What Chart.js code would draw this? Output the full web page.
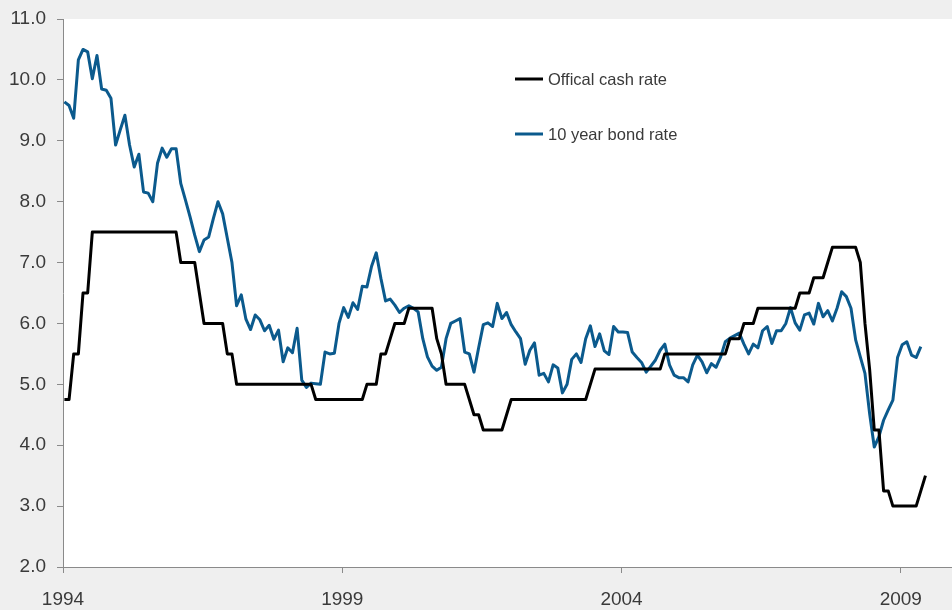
<!DOCTYPE html>
<html>
<head>
<meta charset="utf-8">
<script src="https://cdn.jsdelivr.net/npm/chart.js@4.4.1/dist/chart.umd.min.js"></script>
<style>
  html, body { margin: 0; padding: 0; background: #efefef; }
  #wrap { width: 952px; height: 610px; position: relative; }
</style>
</head>
<body>
<div id="wrap"><canvas id="rates" width="952" height="610"></canvas></div>
<script>
// Monthly series, one value per month from mid-1994 to late 2009 (per cent)
const seriesNames = ['Offical cash rate', '10 year bond rate'];

const cashRate = [
  4.75, 4.75, 5.5, 5.5, 6.5, 6.5,
  7.5, 7.5, 7.5, 7.5, 7.5, 7.5, 7.5, 7.5, 7.5, 7.5, 7.5, 7.5, 7.5, 7.5, 7.5, 7.5, 7.5, 7.5, 7.5,
  7.0, 7.0, 7.0, 7.0, 6.5,
  6.0, 6.0, 6.0, 6.0, 6.0,
  5.5, 5.5,
  5.0, 5.0, 5.0, 5.0, 5.0, 5.0, 5.0, 5.0, 5.0, 5.0, 5.0, 5.0, 5.0, 5.0, 5.0, 5.0, 5.0,
  4.75, 4.75, 4.75, 4.75, 4.75, 4.75, 4.75, 4.75, 4.75, 4.75, 4.75,
  5.0, 5.0, 5.0, 5.5, 5.5, 5.75,
  6.0, 6.0, 6.0,
  6.25, 6.25, 6.25, 6.25, 6.25, 6.25,
  5.75, 5.5,
  5.0, 5.0, 5.0, 5.0, 5.0,
  4.75, 4.5, 4.5,
  4.25, 4.25, 4.25, 4.25, 4.25, 4.5,
  4.75, 4.75, 4.75, 4.75, 4.75, 4.75, 4.75, 4.75, 4.75, 4.75, 4.75, 4.75, 4.75, 4.75, 4.75, 4.75, 4.75,
  5.0,
  5.25, 5.25, 5.25, 5.25, 5.25, 5.25, 5.25, 5.25, 5.25, 5.25, 5.25, 5.25, 5.25, 5.25, 5.25,
  5.5, 5.5, 5.5, 5.5, 5.5, 5.5, 5.5, 5.5, 5.5, 5.5, 5.5, 5.5, 5.5, 5.5,
  5.75, 5.75, 5.75,
  6.0, 6.0, 6.0,
  6.25, 6.25, 6.25, 6.25, 6.25, 6.25, 6.25, 6.25, 6.25,
  6.5, 6.5, 6.5,
  6.75, 6.75, 6.75,
  7.0,
  7.25, 7.25, 7.25, 7.25, 7.25, 7.25,
  7.0, 6.0, 5.25, 4.25, 4.25, 3.25, 3.25,
  3.0, 3.0, 3.0, 3.0, 3.0, 3.0,
  3.25, 3.5
];

const bondRate = [
  9.64, 9.58, 9.37, 10.33, 10.5, 10.46, 10.02, 10.4, 9.85, 9.83,
  9.7, 8.93, 9.18, 9.42, 8.93, 8.57, 8.78, 8.16, 8.14, 8.0,
  8.63, 8.88, 8.73, 8.87, 8.87, 8.3, 8.03, 7.75, 7.45, 7.18,
  7.37, 7.42, 7.72, 8.0, 7.8, 7.4, 7.0, 6.29, 6.47, 6.07,
  5.9, 6.14, 6.06, 5.88, 5.97, 5.74, 5.89, 5.37, 5.6, 5.52,
  5.92, 5.07, 4.95, 5.02, 5.01, 5.0, 5.53, 5.5, 5.51, 6.0,
  6.26, 6.1, 6.34, 6.23, 6.61, 6.6, 6.94, 7.16, 6.74, 6.37,
  6.4, 6.3, 6.18, 6.25, 6.29, 6.25, 6.19, 5.75, 5.45, 5.3,
  5.23, 5.28, 5.75, 6.0, 6.04, 6.08, 5.53, 5.5, 5.2, 5.6,
  5.98, 6.01, 5.95, 6.33, 6.08, 6.18, 5.98, 5.86, 5.75, 5.33,
  5.56, 5.68, 5.15, 5.18, 5.04, 5.32, 5.27, 4.86, 5.0, 5.41,
  5.5, 5.36, 5.75, 5.96, 5.62, 5.83, 5.55, 5.49, 5.95, 5.86,
  5.86, 5.85, 5.53, 5.44, 5.36, 5.2, 5.3, 5.4, 5.56, 5.66,
  5.32, 5.15, 5.11, 5.11, 5.04, 5.32, 5.48, 5.37, 5.19, 5.34,
  5.28, 5.45, 5.7, 5.76, 5.8, 5.84, 5.66, 5.5, 5.66, 5.6,
  5.88, 5.95, 5.67, 5.88, 5.88, 6.0, 6.26, 6.01, 5.89, 6.14,
  6.17, 5.99, 6.33, 6.11, 6.21, 6.04, 6.25, 6.52, 6.44, 6.25,
  5.73, 5.45, 5.18, 4.52, 3.97, 4.14, 4.41, 4.58, 4.74, 5.44,
  5.65, 5.7, 5.48, 5.44, 5.62
];

// Year labels on the time axis, one every five years
const yearLabels = ['1994', '1999', '2004', '2009'];
const monthsBetweenLabels = 60;
const firstLabelMonth = -0.3;   // first year mark sits just before the first observation
const lastAxisMonth = 190.7;

const yTickMin = 2, yTickMax = 11, yTickStep = 1;

const seriesColors = ['#000000', '#0b5a8d'];
const axisGrey = '#8a8a8a';
const labelGrey = '#3a3a3a';
const fontFamily = '"Liberation Sans", Arial, sans-serif';

const toPoints = arr => arr.map((v, i) => ({ x: i, y: v }));

// Grey page with a white plotting area
const backdrop = {
  id: 'backdrop',
  beforeDraw(chart) {
    const { ctx, chartArea: a, width, height } = chart;
    ctx.save();
    ctx.fillStyle = '#efefef';
    ctx.fillRect(0, 0, width, height);
    ctx.fillStyle = '#ffffff';
    ctx.fillRect(a.left, a.top, a.right - a.left, a.bottom - a.top);
    ctx.restore();
  }
};

// Key drawn inside the plotting area, upper middle
const innerKey = {
  id: 'innerKey',
  afterDatasetsDraw(chart) {
    const { ctx } = chart;
    const x0 = 515, lineLen = 28, gap = 5;
    const rows = [79, 134];
    ctx.save();
    ctx.font = '16.5px ' + fontFamily;
    ctx.textBaseline = 'middle';
    ctx.textAlign = 'left';
    chart.data.datasets.forEach((ds, i) => {
      const y = rows[i];
      ctx.strokeStyle = ds.borderColor;
      ctx.lineWidth = 3;
      ctx.beginPath();
      ctx.moveTo(x0, y);
      ctx.lineTo(x0 + lineLen, y);
      ctx.stroke();
      ctx.fillStyle = labelGrey;
      ctx.fillText(ds.label, x0 + lineLen + gap, y + 1);
    });
    ctx.restore();
  }
};

new Chart(document.getElementById('rates'), {
  type: 'line',
  data: {
    datasets: [
      {
        label: seriesNames[0],
        data: toPoints(cashRate),
        borderColor: seriesColors[0],
        borderWidth: 3,
        pointRadius: 0,
        tension: 0,
        borderJoinStyle: 'round'
      },
      {
        label: seriesNames[1],
        data: toPoints(bondRate),
        borderColor: seriesColors[1],
        borderWidth: 3,
        pointRadius: 0,
        tension: 0,
        borderJoinStyle: 'round'
      }
    ]
  },
  options: {
    responsive: false,
    animation: false,
    devicePixelRatio: 1,
    layout: { padding: { top: 19, right: 0, left: 0, bottom: 0 } },
    plugins: {
      legend: { display: false },
      tooltip: { enabled: false }
    },
    scales: {
      x: {
        type: 'linear',
        min: firstLabelMonth,
        max: lastAxisMonth,
        afterBuildTicks(scale) {
          scale.ticks = yearLabels.map((_, k) => ({ value: firstLabelMonth + k * monthsBetweenLabels }));
        },
        afterFit(scale) { scale.height = 43; },
        grid: { drawOnChartArea: false, drawTicks: true, tickLength: 6, color: axisGrey },
        border: { display: true, color: axisGrey, width: 1 },
        ticks: {
          autoSkip: false,
          maxRotation: 0,
          padding: 15,
          color: labelGrey,
          font: { family: fontFamily, size: 19 },
          callback: (value, index) => yearLabels[index]
        }
      },
      y: {
        min: yTickMin,
        max: yTickMax,
        afterFit(scale) {
          scale.width = 63;
          scale.paddingTop = 0;
          scale.paddingBottom = 0;
        },
        grid: { drawOnChartArea: false, drawTicks: true, tickLength: 6, color: axisGrey },
        border: { display: true, color: axisGrey, width: 1 },
        ticks: {
          stepSize: yTickStep,
          padding: 11,
          color: labelGrey,
          font: { family: fontFamily, size: 19 },
          callback: v => Number(v).toFixed(1)
        }
      }
    }
  },
  plugins: [backdrop, innerKey]
});
</script>
</body>
</html>
